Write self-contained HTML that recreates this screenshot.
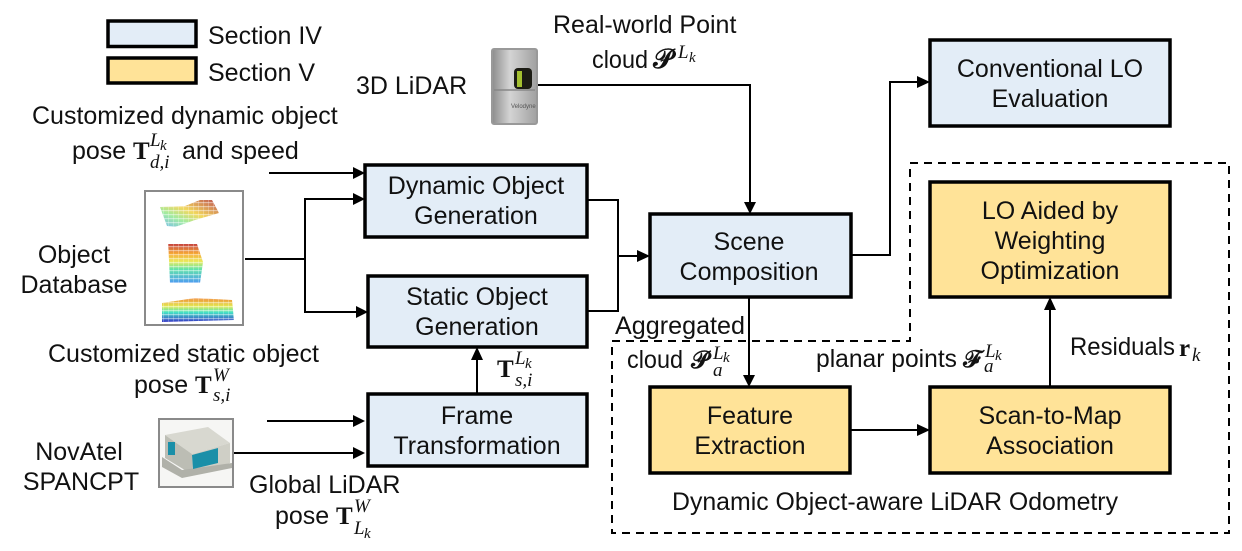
<!DOCTYPE html>
<html><head><meta charset="utf-8"><style>
html,body{margin:0;padding:0;background:#fff}
svg{display:block}
text{font-family:"Liberation Sans",Arial,sans-serif;font-size:25px;fill:#111}
.c{text-anchor:middle}
.m{font-family:"Liberation Serif",serif;font-style:italic;font-size:19px}
.k{font-family:"Liberation Serif",serif;font-style:italic;font-size:15px}
.b{font-family:"Liberation Serif",serif;font-weight:bold;font-size:25px}
.s{font-family:"DejaVu Serif","Liberation Serif",serif;font-style:normal;font-weight:normal;font-size:27px;stroke:#111;stroke-width:.5}
.bl{fill:#e3edf7;stroke:#000;stroke-width:3.5}
.ye{fill:#ffe398;stroke:#000;stroke-width:3.5}
.l{fill:none;stroke:#000;stroke-width:2}
.h{fill:#000;stroke:none}
</style></head><body>
<svg xmlns="http://www.w3.org/2000/svg" width="1242" height="551" viewBox="0 0 1242 551">
<defs>
<linearGradient id="r1" x1="0" y1="0" x2="0" y2="1"><stop offset="0" stop-color="#c0302a"/><stop offset=".25" stop-color="#f5a020"/><stop offset=".45" stop-color="#e8e84a"/><stop offset=".65" stop-color="#50e0a0"/><stop offset="1" stop-color="#3a90f0"/></linearGradient>
<linearGradient id="r2" x1="0" y1="0" x2="0" y2="1"><stop offset="0" stop-color="#f08020"/><stop offset=".35" stop-color="#e0e840"/><stop offset=".6" stop-color="#30e0c0"/><stop offset="1" stop-color="#2020c0"/></linearGradient>
<linearGradient id="r3" x1="1" y1="0" x2="0" y2="1"><stop offset="0" stop-color="#b03030"/><stop offset=".45" stop-color="#f0d040"/><stop offset=".7" stop-color="#90e890"/><stop offset="1" stop-color="#60b0f0"/></linearGradient>
<linearGradient id="dv" x1="0" y1="0" x2="1" y2="0"><stop offset="0" stop-color="#8c8c8c"/><stop offset=".4" stop-color="#d4d4d4"/><stop offset="1" stop-color="#a0a0a0"/></linearGradient>
<pattern id="gaps" width="5" height="4" patternUnits="userSpaceOnUse"><rect x="0" y="2" width="5" height="1.2" fill="#fff" opacity=".45"/><rect x="3" y="0" width="1" height="4" fill="#fff" opacity=".25"/></pattern>
</defs>

<!-- legend -->
<rect x="108" y="21" width="88" height="25.5" class="bl"/>
<rect x="108" y="58" width="88" height="25" class="ye"/>
<text x="208" y="44">Section IV</text>
<text x="208" y="81">Section V</text>

<!-- dashed region -->
<path d="M612 341H910V163H1229V533H612Z" fill="none" stroke="#000" stroke-width="2" stroke-dasharray="8 6"/>

<!-- connectors -->
<path class="l" d="M537 85H750V203"/><path class="h" d="M744 202h12l-6 12z"/>
<path class="l" d="M269 173H354"/><path class="h" d="M353 167l12 6-12 6z"/>
<path class="l" d="M245 259H305V199H354M305 259V312H357"/>
<path class="h" d="M353 193l12 6-12 6z"/><path class="h" d="M356 306l12 6-12 6z"/>
<path class="l" d="M587 200H618V311H587M618 256H639"/>
<path class="h" d="M637 250l13 6-13 6z"/>
<path class="l" d="M851 255H890V82H919"/><path class="h" d="M917 76l13 6-13 6z"/>
<path class="l" d="M749 297V376"/><path class="h" d="M743 375h12l-6 12z"/>
<path class="l" d="M850 430H919"/><path class="h" d="M917 424l13 6-13 6z"/>
<path class="l" d="M1050 387V309"/><path class="h" d="M1044 310h12l-6-13z"/>
<path class="l" d="M477 394V360"/><path class="h" d="M471 360h12l-6-13z"/>
<path class="l" d="M267 421H355"/><path class="h" d="M353 415l12 6-12 6z"/>
<path class="l" d="M232 453H355"/><path class="h" d="M353 447l12 6-12 6z"/>

<!-- boxes -->
<rect x="365" y="165" width="222" height="72" class="bl"/>
<rect x="368" y="276" width="219" height="71" class="bl"/>
<rect x="368" y="394" width="219" height="72" class="bl"/>
<rect x="650" y="214" width="201" height="83" class="bl"/>
<rect x="930" y="40" width="240" height="86" class="bl"/>
<rect x="930" y="182" width="240" height="115" class="ye"/>
<rect x="650" y="387" width="200" height="86" class="ye"/>
<rect x="930" y="387" width="240" height="86" class="ye"/>

<text class="c" x="476" y="194">Dynamic Object</text>
<text class="c" x="476" y="224">Generation</text>
<text class="c" x="477" y="305">Static Object</text>
<text class="c" x="477" y="335">Generation</text>
<text class="c" x="477" y="424">Frame</text>
<text class="c" x="477" y="454">Transformation</text>
<text class="c" x="749" y="250">Scene</text>
<text class="c" x="749" y="280">Composition</text>
<text class="c" x="1050" y="77">Conventional LO</text>
<text class="c" x="1050" y="107">Evaluation</text>
<text class="c" x="1050" y="219">LO Aided by</text>
<text class="c" x="1050" y="249">Weighting</text>
<text class="c" x="1050" y="279">Optimization</text>
<text class="c" x="750" y="424">Feature</text>
<text class="c" x="750" y="454">Extraction</text>
<text class="c" x="1050" y="424">Scan-to-Map</text>
<text class="c" x="1050" y="454">Association</text>

<!-- top labels -->
<text x="553" y="33">Real-world Point</text>
<text x="592" y="68" textLength="56" lengthAdjust="spacingAndGlyphs">cloud</text><text class="s" x="653" y="68">𝓟</text><text class="m" x="678" y="58">L</text><text class="k" x="689" y="62">k</text>
<text x="356" y="94">3D LiDAR</text>

<!-- LiDAR image -->
<rect x="492" y="49" width="45" height="75" rx="2" fill="url(#dv)" stroke="#999" stroke-width="2"/>
<path d="M494 90H535" stroke="#888" stroke-width="1.5"/>
<rect x="514" y="68" width="18" height="21" rx="4" fill="#1c1c14"/>
<rect x="517" y="71" width="5" height="16" fill="#a4c030"/>
<text x="511" y="108" style="font-size:6px;fill:#555">Velodyne</text>

<!-- left labels -->
<text x="32" y="124">Customized dynamic object</text>
<text x="72" y="159">pose</text><text class="b" x="133" y="159">T</text><text class="m" x="150" y="146">L</text><text class="k" x="160" y="150">k</text><text class="m" x="150" y="168">d,i</text><text x="182" y="159">and speed</text>

<text class="c" x="74" y="263">Object</text>
<text class="c" x="74" y="293">Database</text>

<!-- database image -->
<rect x="145" y="191" width="98" height="134" fill="#fff" stroke="#8a8a8a" stroke-width="2"/>
<path d="M160 207L185 206L200 200L212 200L219 213L195 220L175 227L167 226Z" fill="url(#r3)" opacity=".85"/>
<path d="M168 244H197L203 262L200 283H170L169 260Z" fill="url(#r1)" opacity=".9"/>
<path d="M162 303L195 298L232 300L234 320L162 322Z" fill="url(#r2)" opacity=".9"/>
<path d="M160 207L185 206L200 200L212 200L219 213L195 220L175 227L167 226Z M168 244H197L203 262L200 283H170L169 260Z M162 303L195 298L232 300L234 320L162 322Z" fill="url(#gaps)"/>

<text x="48" y="362">Customized static object</text>
<text x="134" y="393">pose</text><text class="b" x="195" y="393">T</text><text class="m" x="213" y="381">W</text><text class="m" x="213" y="401">s,i</text>

<text class="c" x="79" y="460">NovAtel</text>
<text class="c" x="81" y="490">SPANCPT</text>

<!-- novatel image -->
<rect x="159" y="419" width="74" height="68" fill="#f6f6f4" stroke="#8a8a8a" stroke-width="2"/>
<path d="M165 435L208 427L230 443L192 454Z" fill="#d8d8d0"/>
<path d="M192 454L230 443V463L193 475Z" fill="#cfcfc6"/>
<path d="M165 435L192 454L193 475L165 458Z" fill="#bcbdb4"/>
<path d="M162 457L182 470L232 463V468L182 478L162 467Z" fill="#b0b1a9"/>
<path d="M192 455L218 448V463L193 469Z" fill="#1a8fa8"/>
<rect x="168" y="442" width="7" height="13" fill="#1a8fa8"/>

<text x="249" y="493">Global LiDAR</text>
<text x="275" y="524">pose</text><text class="b" x="336" y="524">T</text><text class="m" x="354" y="512">W</text><text class="m" x="354" y="534">L</text><text class="k" x="364" y="538">k</text>

<text class="b" x="497" y="377">T</text><text class="m" x="515" y="364">L</text><text class="k" x="525" y="368">k</text><text class="m" x="515" y="386">s,i</text>

<!-- right labels -->
<text x="615" y="334" textLength="130" lengthAdjust="spacingAndGlyphs">Aggregated</text>
<text x="627" y="368" textLength="56" lengthAdjust="spacingAndGlyphs">cloud</text><text class="s" x="691" y="368" style="font-size:24px">𝓟</text><text class="m" x="713" y="359">L</text><text class="k" x="723" y="362">k</text><text class="m" x="713" y="376">a</text>
<text x="816" y="367" textLength="141" lengthAdjust="spacingAndGlyphs">planar points</text><text class="s" x="963" y="367" style="font-size:24px">𝓕</text><text class="m" x="985" y="357">L</text><text class="k" x="995" y="360">k</text><text class="m" x="984" y="372">a</text>
<text x="1070" y="355" textLength="105" lengthAdjust="spacingAndGlyphs">Residuals</text><text class="b" x="1179" y="356">r</text><text class="m" x="1192" y="361">k</text>
<text x="672" y="510" textLength="446" lengthAdjust="spacingAndGlyphs">Dynamic Object-aware LiDAR Odometry</text>
</svg>
</body></html>
